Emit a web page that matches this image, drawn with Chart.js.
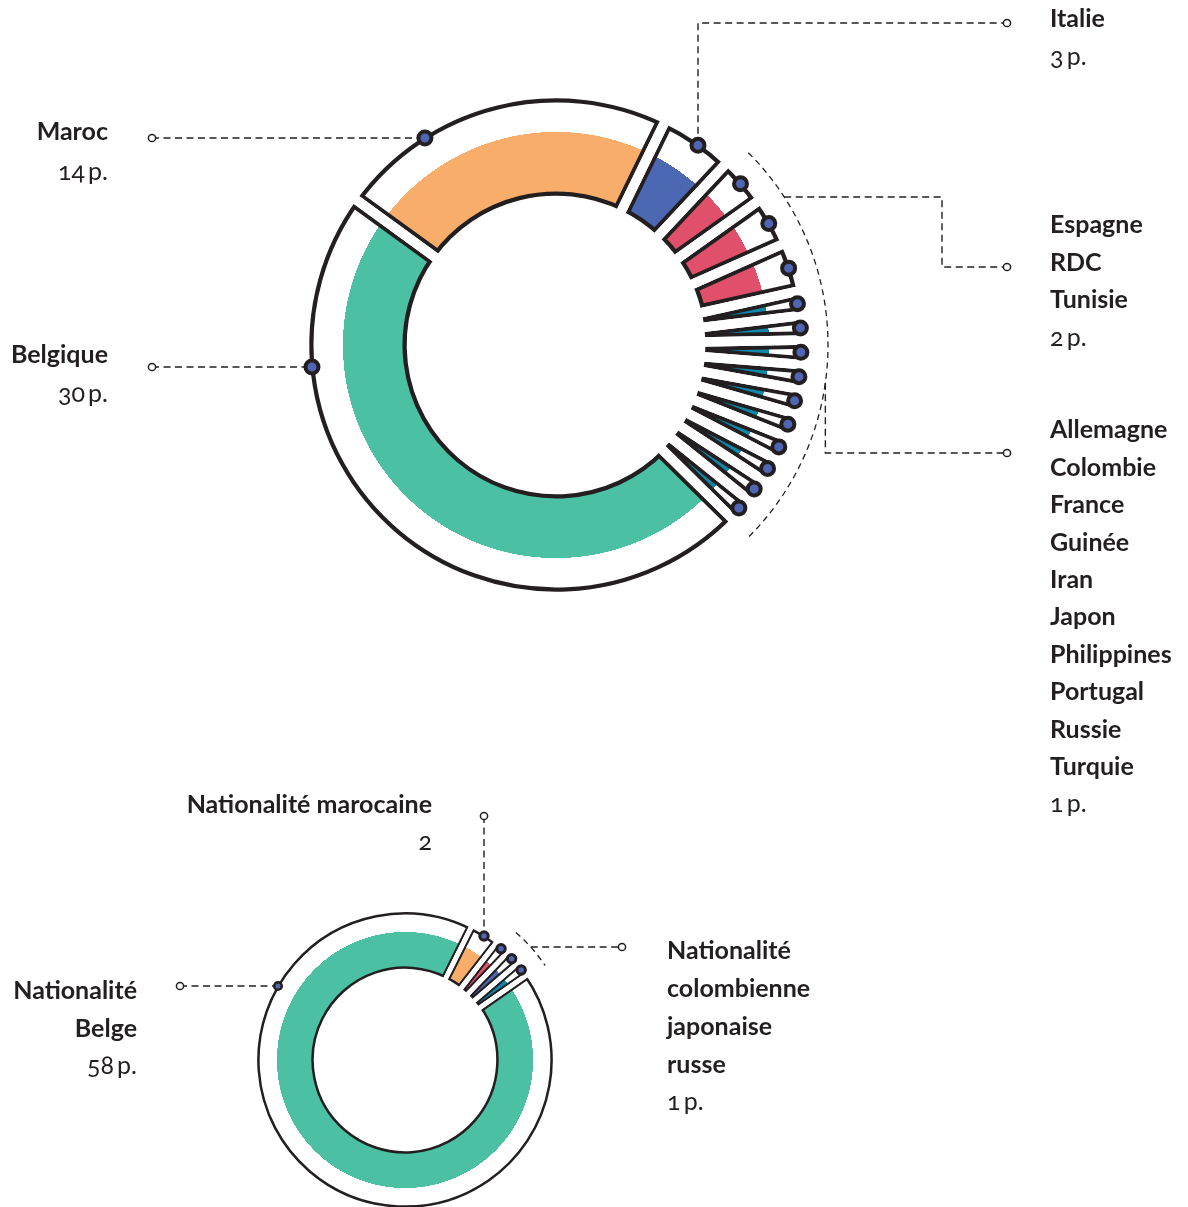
<!DOCTYPE html>
<html><head><meta charset="utf-8">
<script src="https://cdn.jsdelivr.net/npm/chart.js@4.4.1/dist/chart.umd.min.js"></script>
<style>
html,body{margin:0;padding:0;background:#fff;}
#wrap{position:relative;width:1188px;height:1207px;overflow:hidden;background:#fff;}
canvas{position:absolute;left:0;top:0;}
.lbl{position:absolute;white-space:nowrap;font-family:Lato,"Open Sans",sans-serif;font-size:25px;line-height:30px;color:#231f20;}
.b{font-weight:700;}
.n{font-weight:400;font-variant-numeric:oldstyle-nums;font-feature-settings:"onum" 1;}
</style></head>
<body>
<div id="wrap">
<canvas id="c1b" width="1188" height="1207" style="width:1188px;height:1207px"></canvas>
<canvas id="c1a" width="1188" height="1207" style="width:1188px;height:1207px"></canvas>
<canvas id="c2b" width="1188" height="1207" style="width:1188px;height:1207px"></canvas>
<canvas id="c2a" width="1188" height="1207" style="width:1188px;height:1207px"></canvas>
</div>
<script>
// ---------- data ----------
const GREEN = '#4cc0a3', ORANGE = '#f8ae6a', BLUE = '#4d68b2', PINK = '#e0506b', TEAL = '#0f87a8';
const INK = '#231f20', MARK = '#5065b3';

const topCategories = ['Maroc','Italie','Espagne','RDC','Tunisie','Allemagne','Colombie','France','Guinée','Iran','Japon','Philippines','Portugal','Russie','Turquie','Belgique'];
const topValues     = [14, 3, 2, 2, 2, 1, 1, 1, 1, 1, 1, 1, 1, 1, 1, 30];
const topColors     = [ORANGE, BLUE, PINK, PINK, PINK, TEAL, TEAL, TEAL, TEAL, TEAL, TEAL, TEAL, TEAL, TEAL, TEAL, GREEN];

const bottomCategories = ['marocaine','colombienne','japonaise','russe','Belge'];
const bottomValues     = [2, 1, 1, 1, 58];
const bottomColors     = [ORANGE, PINK, BLUE, TEAL, GREEN];

// ---------- geometry (outline radius, band edge, gap, border) ----------
const T = {gap: 9, rOut: 245, rIn: 151, band: 213, bw: 3.9, rot: -54};
const B = {gap: 4.2, rOut: 147, rIn: 92, band: 128, bw: 2.2, rot: 26.5};
const OVER = 0.5; // overlap of the white gap layer

function bandFill(colors, G) {
  return function (c) {
    const col = colors[c.dataIndex];
    const a = c.chart.chartArea;
    if (!a) return col;
    const cx = (a.left + a.right) / 2, cy = (a.top + a.bottom) / 2;
    const g = c.chart.ctx.createRadialGradient(cx, cy, 0, cx, cy, G.rOut + 20);
    const s = G.band / (G.rOut + 20);
    g.addColorStop(0, col); g.addColorStop(s, col);
    g.addColorStop(s + 0.0005, '#ffffff'); g.addColorStop(1, '#ffffff');
    return g;
  };
}

function dashed(ctx, pts) {
  ctx.save(); ctx.setLineDash([7, 4.5]); ctx.lineWidth = 1.4; ctx.strokeStyle = INK;
  ctx.beginPath(); ctx.moveTo(pts[0][0], pts[0][1]);
  for (let i = 1; i < pts.length; i++) ctx.lineTo(pts[i][0], pts[i][1]);
  ctx.stroke(); ctx.restore();
}
function dashedArc(ctx, cx, cy, r, a0, a1) {
  ctx.save(); ctx.setLineDash([6, 4.5]); ctx.lineWidth = 1.3; ctx.strokeStyle = INK;
  ctx.beginPath(); ctx.arc(cx, cy, r, a0, a1); ctx.stroke(); ctx.restore();
}
function dot(ctx, x, y, r, lw) {
  ctx.save(); ctx.setLineDash([]); ctx.beginPath(); ctx.arc(x, y, r, 0, Math.PI * 2);
  ctx.fillStyle = MARK; ctx.fill(); ctx.lineWidth = lw; ctx.strokeStyle = INK; ctx.stroke(); ctx.restore();
}
function ring(ctx, x, y) {
  ctx.save(); ctx.setLineDash([]); ctx.beginPath(); ctx.arc(x, y, 3.6, 0, Math.PI * 2);
  ctx.fillStyle = '#fff'; ctx.fill(); ctx.lineWidth = 1.5; ctx.strokeStyle = INK; ctx.stroke(); ctx.restore();
}
const deg = d => d * Math.PI / 180;
function midPoint(arc, R) {
  const m = (arc.startAngle + arc.endAngle) / 2;
  return [arc.x + R * Math.cos(m), arc.y + R * Math.sin(m)];
}
const outline = (arc, G) => arc.outerRadius - G.gap / 2 - G.bw / 2;

const topLeaders = {
  id: 'topLeaders',
  afterDatasetsDraw(chart) {
    const ctx = chart.ctx, arcs = chart.getDatasetMeta(0).data;
    const cx = arcs[0].x, cy = arcs[0].y, R = outline(arcs[0], T);
    const onCircleY = (y, side) => [cx + side * Math.sqrt(R * R - (y - cy) * (y - cy)), y];
    const onCircleX = x => [x, cy - Math.sqrt(R * R - (x - cx) * (x - cx))];
    const Ra = 272;
    const pM = onCircleY(138, -1); dashed(ctx, [[152, 138], pM]);
    const pB = onCircleY(367, -1); dashed(ctx, [[152, 367], pB]);
    const pI = onCircleX(698); dashed(ctx, [pI, [698, 23], [1007, 23]]);
    dashedArc(ctx, cx, cy, Ra, deg(-45), deg(45));
    const yE = 197, xE = cx + Math.sqrt(Ra * Ra - (yE - cy) * (yE - cy));
    dashed(ctx, [[xE, yE], [942, yE], [942, 267], [1007, 267]]);
    const p1 = [cx + Ra * Math.cos(deg(8)), cy + Ra * Math.sin(deg(8))];
    dashed(ctx, [p1, [p1[0], 453], [1007, 453]]);
    dot(ctx, pM[0], pM[1], 6.5, 4); dot(ctx, pB[0], pB[1], 6.5, 4); dot(ctx, pI[0], pI[1], 6.5, 4);
    for (let i = 2; i <= 14; i++) { const p = midPoint(arcs[i], R); dot(ctx, p[0], p[1], 6.5, 4); }
    ring(ctx, 152, 138); ring(ctx, 152, 367); ring(ctx, 1007, 23); ring(ctx, 1007, 267); ring(ctx, 1007, 453);
  }
};

const bottomLeaders = {
  id: 'bottomLeaders',
  afterDatasetsDraw(chart) {
    const ctx = chart.ctx, arcs = chart.getDatasetMeta(0).data;
    const cx = arcs[0].x, cy = arcs[0].y, R = outline(arcs[0], B);
    const pBe = [cx - Math.sqrt(R * R - (986 - cy) * (986 - cy)), 986];
    dashed(ctx, [[180, 986], pBe]);
    const pMa = [484, cy - Math.sqrt(R * R - (484 - cx) * (484 - cx))];
    dashed(ctx, [[484, 816], pMa]);
    const Ra = 169;
    dashedArc(ctx, cx, cy, Ra, deg(-49), deg(-34));
    const y = 947, x = cx + Math.sqrt(Ra * Ra - (y - cy) * (y - cy));
    dashed(ctx, [[x, y], [622, y]]);
    dot(ctx, pBe[0], pBe[1], 3.8, 2.5); dot(ctx, pMa[0], pMa[1], 4.2, 3);
    for (let i = 1; i <= 3; i++) { const p = midPoint(arcs[i], R); dot(ctx, p[0], p[1], 4.2, 3); }
    ring(ctx, 180, 986); ring(ctx, 484, 816); ring(ctx, 622, 947);
  }
};

// layer 'base': band fill + black inner border; layer 'gap': white centred border that opens the gaps
function donut(id, labels, values, colors, G, padding, layer, plugin) {
  const Rc = G.rOut + G.bw / 2 + G.gap / 2;
  const rc = G.rIn - G.bw / 2 - G.gap / 2;
  const base = layer === 'base';
  return new Chart(document.getElementById(id), {
    type: 'doughnut',
    data: { labels: labels, datasets: [{
      data: values,
      backgroundColor: base ? bandFill(colors, G) : 'rgba(0,0,0,0)',
      borderColor: base ? INK : '#ffffff',
      borderWidth: base ? G.gap / 2 + G.bw + OVER / 2 : G.gap + OVER,
      borderJoinStyle: base ? 'miter' : 'round',
      borderAlign: base ? 'inner' : 'center'
    }]},
    options: {
      responsive: false, animation: false, events: [],
      rotation: G.rot, radius: Rc, cutout: (rc / Rc * 100) + '%',
      layout: { padding: padding },
      plugins: { legend: { display: false }, tooltip: { enabled: false } }
    },
    plugins: plugin ? [plugin] : []
  });
}

const padTop = {left: 0, right: 76, top: 0, bottom: 517};
const padBottom = {left: 0, right: 378, top: 913, bottom: 0};
const bottomLabels = bottomCategories.map(n => 'Nationalité ' + n);
donut('c1b', topCategories, topValues, topColors, T, padTop, 'base');
donut('c1a', topCategories, topValues, topColors, T, padTop, 'gap', topLeaders);
donut('c2b', bottomLabels, bottomValues, bottomColors, B, padBottom, 'base');
donut('c2a', bottomLabels, bottomValues, bottomColors, B, padBottom, 'gap', bottomLeaders);

// ---------- labels ----------
const wrap = document.getElementById('wrap');
function line(text, x, baseline, align, cls) {
  const d = document.createElement('div');
  d.className = 'lbl ' + cls;
  d.textContent = text;
  d.style.top = (baseline - 24.7) + 'px';
  if (align === 'right') d.style.right = (1188 - x) + 'px'; else d.style.left = x + 'px';
  wrap.appendChild(d);
}
function block(names, valueText, x, baselines, align) {
  names.forEach((n, i) => line(n, x, baselines[i], align, 'b'));
  line(valueText, x, baselines[names.length], align, 'n');
}
const pv = v => v + '\u2009p.';
const step = 37.4;
const seq = (b0, n) => Array.from({length: n}, (_, i) => b0 + i * step);

block([topCategories[0]], pv(topValues[0]), 108, [140, 180], 'right');
block([topCategories[15]], pv(topValues[15]), 108, [363, 402], 'right');
block([topCategories[1]], pv(topValues[1]), 1050, [27, 65], 'left');
block(topCategories.slice(2, 5), pv(topValues[2]), 1050, seq(233, 4), 'left');
block(topCategories.slice(5, 15), pv(topValues[5]), 1050, seq(438, 11), 'left');

block(['Nationalité ' + bottomCategories[0]], String(bottomValues[0]), 432, [813, 850], 'right');
block(['Nationalité', bottomCategories[4]], pv(bottomValues[4]), 137, [999, 1037, 1074], 'right');
block(['Nationalité'].concat(bottomCategories.slice(1, 4)), pv(bottomValues[1]), 667, [959, 997, 1035, 1073, 1110], 'left');
</script>
</body></html>
